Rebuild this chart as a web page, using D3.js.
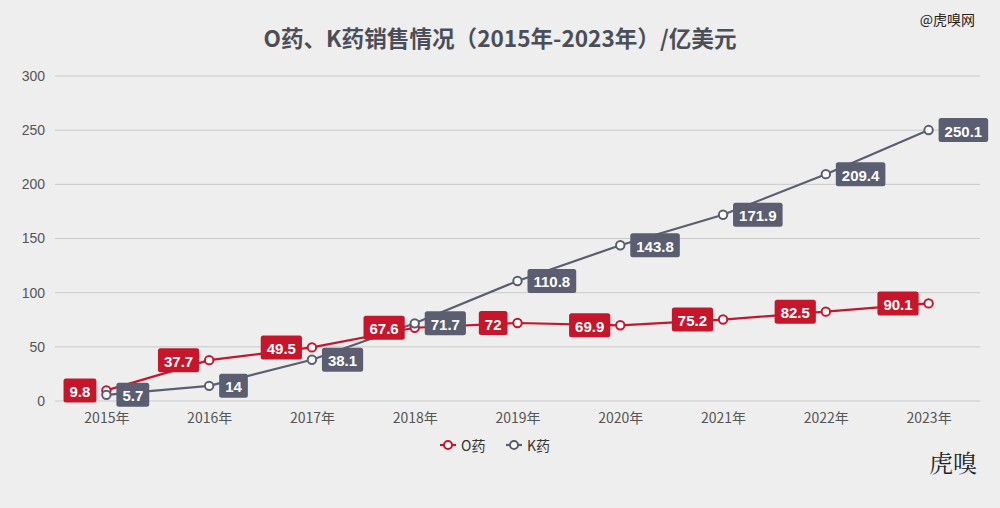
<!DOCTYPE html>
<html><head><meta charset="utf-8">
<script src="https://cdn.jsdelivr.net/npm/d3@7"></script>
<style>
html,body{margin:0;padding:0;background:#eeeeee;}
svg{display:block;font-family:"Noto Sans CJK SC","Liberation Sans",sans-serif;}
</style></head>
<body>
<svg id="c" width="1000" height="508"></svg>
<script>
const years = ["2015年","2016年","2017年","2018年","2019年","2020年","2021年","2022年","2023年"];
const oValues = [9.8,37.7,49.5,67.6,72,69.9,75.2,82.5,90.1];
const kValues = [5.7,14,38.1,71.7,110.8,143.8,171.9,209.4,250.1];
const yTicks = [0,50,100,150,200,250,300];
const seriesNames = ["O药","K药"];
const colors = ["#c5162c","#5a5e70"];

(function(){
const svg = d3.select("#c");
const W=1000,H=508;
svg.append("rect").attr("width",W).attr("height",H).attr("fill","#eeeeee");
const mLeft=55,mRight=980,mTop=76,mBottom=401;
const x = d3.scalePoint().domain(years).range([mLeft,mRight]).padding(0.5);
const y = d3.scaleLinear().domain([0,300]).range([mBottom,mTop]);

svg.append("g").selectAll("line").data(yTicks).join("line")
  .attr("x1",mLeft).attr("x2",mRight)
  .attr("y1",d=>y(d)).attr("y2",d=>y(d))
  .attr("stroke","#c9c9c9").attr("stroke-width",1);

const yAxis = d3.axisLeft(y).tickValues(yTicks).tickSize(0).tickPadding(10);
const gy = svg.append("g").attr("transform",`translate(${mLeft},0)`).call(yAxis);
gy.select(".domain").remove();
gy.selectAll("text").attr("font-size",14).attr("fill","#555").attr("font-family","Liberation Sans, Noto Sans CJK SC, sans-serif");

const xAxis = d3.axisBottom(x).tickSize(0).tickPadding(12);
const gx = svg.append("g").attr("transform",`translate(0,${mBottom})`).call(xAxis);
gx.select(".domain").remove();
gx.selectAll("text").attr("font-size",14).attr("fill","#555").attr("font-family","Noto Sans CJK SC, sans-serif");

svg.append("text").attr("x",500).attr("y",47).attr("text-anchor","middle")
  .attr("font-size",22.6).attr("font-weight","bold").attr("fill","#4b4e58")
  .text("O药、K药销售情况（2015年-2023年）/亿美元");

const line = d3.line().x((d,i)=>x(years[i])).y(d=>y(d));
const series = [oValues,kValues];
series.forEach((vals,si)=>{
  svg.append("path").datum(vals).attr("d",line).attr("fill","none")
    .attr("stroke",colors[si]).attr("stroke-width",2.2);
});
series.forEach((vals,si)=>{
  svg.append("g").selectAll("circle").data(vals).join("circle")
    .attr("cx",(d,i)=>x(years[i])).attr("cy",d=>y(d)).attr("r",4.2)
    .attr("fill","#fff").attr("stroke",colors[si]).attr("stroke-width",2);
});
series.forEach((vals,si)=>{
  const g = svg.append("g");
  vals.forEach((v,i)=>{
    const px=x(years[i]), py=y(v);
    const r = g.append("rect");
    const t = g.append("text").attr("font-size",15).attr("font-weight","bold")
      .attr("fill","#fff").attr("font-family","Liberation Sans, sans-serif")
      .attr("dominant-baseline","central").text(String(v));
    const w = t.node().getComputedTextLength();
    const bw = w+12, bh=24;
    const bx = si===0 ? px-10-bw : px+10;
    r.attr("x",bx).attr("y",py-bh/2).attr("width",bw).attr("height",bh)
      .attr("rx",2.5).attr("fill",colors[si]);
    t.attr("x",bx+6).attr("y",py+1);
  });
});

const lg = svg.append("g").attr("transform","translate(0,445)");
[440,506].forEach((lx,i)=>{
  lg.append("line").attr("x1",lx).attr("x2",lx+16).attr("y1",0).attr("y2",0)
    .attr("stroke",colors[i]).attr("stroke-width",2.2);
  lg.append("circle").attr("cx",lx+8).attr("cy",0).attr("r",4).attr("fill","#fff")
    .attr("stroke",colors[i]).attr("stroke-width",2);
  lg.append("text").attr("x",lx+21).attr("y",0).attr("dominant-baseline","central")
    .attr("font-size",14).attr("fill","#333").text(seriesNames[i]);
});

svg.append("text").attr("x",975).attr("y",25).attr("text-anchor","end")
  .attr("font-size",14).attr("fill","#222").text("@虎嗅网");
svg.append("text").attr("x",977).attr("y",472).attr("text-anchor","end")
  .attr("font-size",24).attr("fill","#222").attr("font-family","Noto Serif CJK SC, serif").text("虎嗅");
})();
</script>
</body></html>
